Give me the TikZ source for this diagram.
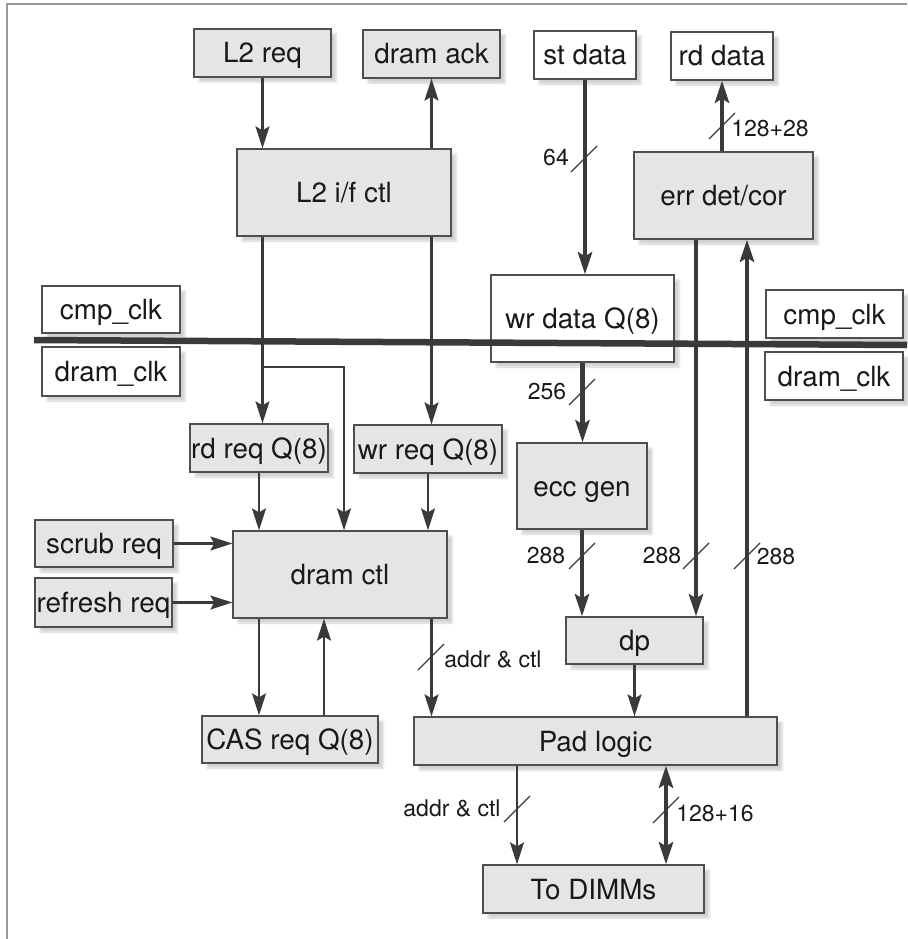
\documentclass[tikz,border=0pt]{standalone}
\usepackage{fontspec}
\setmainfont{TeX Gyre Heros}
\usetikzlibrary{arrows.meta,shadows.blur}

\definecolor{boxgray}{HTML}{E5E5E5}
\definecolor{edgegray}{HTML}{4E4E4E}
\definecolor{inkgray}{HTML}{3A3A3A}
\definecolor{framegray}{HTML}{9A9A9A}

\tikzset{
  blk/.style={draw=edgegray, line width=1.3pt, fill=boxgray, inner sep=0pt,
    font=\fontsize{27.8}{30}\selectfont, text=black!90,
    text height=20pt, text depth=0pt,
    blur shadow={shadow xshift=5pt, shadow yshift=-5pt, shadow opacity=18, shadow blur steps=4}},
  wblk/.style={blk, fill=white},
  sz/.style 2 args={minimum width=#1pt, minimum height=#2pt},
  lbl/.style={inner sep=0pt, font=\fontsize{23}{25}\selectfont, text=black!90,
    text height=16.5pt, text depth=0pt},
  tip/.tip={Stealth[length=22pt,width=14pt,inset=4pt]},
  sig/.style={draw=inkgray, line width=2.2pt, -tip},
  bus/.style={draw=inkgray, line width=4.5pt, -tip},
  slash/.pic={\draw[inkgray, line width=1.1pt] (-13,13) -- (13,-13);}
}

\begin{document}
\begin{tikzpicture}[x=1pt,y=-1pt]
\useasboundingbox (0,0) rectangle (907,939);

% page frame (left and top edges)
\draw[framegray, line width=1.2pt] (7,939) -- (7,4) -- (907,4);

% blocks
\node[blk,  sz={137}{48}] (l2req)   at (262.5,53)  {L2 req};
\node[blk,  sz={137}{48}] (dramack) at (431.5,54)  {dram ack};
\node[wblk, sz={102}{48}] (stdata)  at (585,55)    {st data};
\node[wblk, sz={102}{48}] (rddata)  at (722,56)    {rd data};
\node[blk,  sz={214}{87}] (l2ctl)   at (344,192.5) {L2 i/f ctl};
\node[blk,  sz={179}{87}] (errdet)  at (723.5,195.5) {err det/cor};
\node[wblk, sz={183}{87}] (wrdq)    at (582.5,318.5) {wr data Q(8)};
\node[wblk, sz={138}{47}] (cmpL)    at (111,309.5) {cmp\_clk};
\node[wblk, sz={138}{49}] (dramL)   at (111,371.5) {dram\_clk};
\node[wblk, sz={137}{48}] (cmpR)    at (834.5,314) {cmp\_clk};
\node[wblk, sz={138}{48}] (dramR)   at (834,376)   {dram\_clk};
\node[blk,  sz={138}{48}] (rdreq)   at (259,448)   {rd req Q(8)};
\node[blk,  sz={148}{48}] (wrreq)   at (428,449)   {wr req Q(8)};
\node[blk,  sz={130}{86}] (ecc)     at (582,486)   {ecc gen};
\node[blk,  sz={138}{47}] (scrub)   at (104,543.5) {scrub req};
\node[blk,  sz={137}{49}] (refresh) at (103.5,602.5) {refresh req};
\node[blk,  sz={214}{87}] (dramctl) at (340,574.5) {dram ctl};
\node[blk,  sz={137}{47}] (dp)      at (634.5,640.5) {dp};
\node[blk,  sz={176}{47}] (cas)     at (290,739.5) {CAS req Q(8)};
\node[blk,  sz={363}{48}] (pad)     at (595.5,741) {Pad logic};
\node[blk,  sz={221}{48}] (dimm)    at (593.5,889) {To DIMMs};

% clock domain boundary
\coordinate (clkL) at (34,340);
\coordinate (clkR) at (907,345);
\draw[inkgray, line width=6.5pt] (clkL) -- (clkR);

% helper points for off-centre connectors
\coordinate (splitlvl) at (0,367);
\coordinate (split)  at (l2req |- splitlvl);
\coordinate (casup)  at ([xshift=34pt]cas.north);
\coordinate (errdn)  at ([xshift=-27.5pt]errdet.south);
\coordinate (errup)  at ([xshift=23.5pt]errdet.south);
\coordinate (padac)  at ([xshift=-76.5pt]dimm.north);
\coordinate (paddq)  at ([xshift=72.5pt]dimm.north);

% request path
\draw[sig] (l2req.south) -- (l2req.south |- l2ctl.north);
\draw[sig] (l2ctl.north -| dramack) -- (dramack.south);
\draw[sig] (l2ctl.south -| l2req) -- (rdreq.north -| l2req);
\draw[sig] (split) -| (dramctl.north -| l2ctl);
\draw[sig] (l2ctl.south -| dramack) -- (wrreq.north -| dramack);
\draw[sig] (rdreq.south) -- (rdreq.south |- dramctl.north);
\draw[sig] (wrreq.south) -- (wrreq.south |- dramctl.north);
\draw[sig] (scrub.east) -- (scrub.east -| dramctl.west);
\draw[sig] (refresh.east) -- (refresh.east -| dramctl.west);
\draw[sig] (dramctl.south -| rdreq) -- (cas.north -| rdreq);
\draw[sig] (casup) -- (casup |- dramctl.south);
\draw[sig] (dramctl.south -| dramack) -- (pad.north -| dramack);
\draw[sig] (dp.south) -- (dp.south |- pad.north);
\draw[sig] (padac |- pad.south) -- (padac);

% data path
\draw[bus] (stdata.south) -- (stdata.south |- wrdq.north);
\draw[bus] (errdet.north -| rddata) -- (rddata.south);
\draw[bus] (wrdq.south) -- (wrdq.south |- ecc.north);
\draw[bus] (ecc.south) -- (ecc.south |- dp.north);
\draw[bus] (errdn) -- (errdn |- dp.north);
\draw[bus] (errup |- pad.north) -- (errup);
\draw[bus, tip-tip] (paddq |- pad.south) -- (paddq);

% bus width marks
\pic at (584,159) {slash};
\pic at (722,126) {slash};
\pic at (582,392) {slash};
\pic at (582,556) {slash};
\pic at (696,556) {slash};
\pic at (747,556) {slash};
\pic at (431,657) {slash};
\pic at (517,809) {slash};
\pic at (666,810) {slash};

\node[lbl] (w64)   at (556,157)   {64};
\node[lbl] (w156)  at (770,128)   {128+28};
\node[lbl] (w256)  at (547,391)   {256};
\node[lbl] (w288a) at (546,555)   {288};
\node[lbl] (w288b) at (662,555)   {288};
\node[lbl] (w288c) at (776,556)   {288};
\node[lbl] (ac1)   at (493,659)   {addr \& ctl};
\node[lbl] (ac2)   at (452,808)   {addr \& ctl};
\node[lbl] (w144)  at (715,813)   {128+16};
\end{tikzpicture}
\end{document}
